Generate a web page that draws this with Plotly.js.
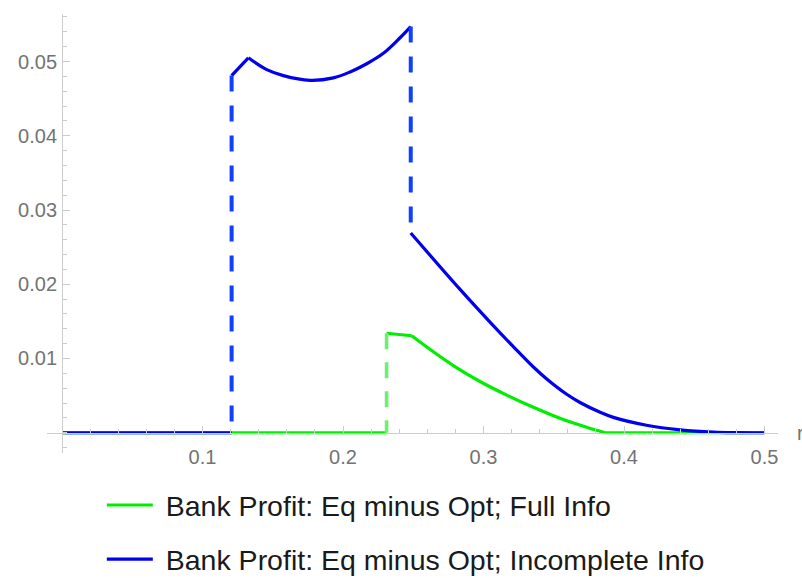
<!DOCTYPE html>
<html>
<head>
<meta charset="utf-8">
<script src="https://cdn.plot.ly/plotly-3.0.1.min.js"></script>
<style>
  html, body { margin: 0; padding: 0; background: #ffffff; }
  #chart { width: 802px; height: 578px; }
</style>
</head>
<body>
<div id="chart"></div>
<script>
// ---- Data ----
// Full info (green): solid pieces, separated by null
const fullR = [0, 0.231, null, 0.231, 0.2489, null,
               0.2489, 0.2643, 0.2785, 0.2975, 0.3165, 0.3355, 0.3544, 0.3734, 0.3865, null,
               0.3865, 0.5];
const fullP = [0, 0, null, 0.0134, 0.01306, null,
               0.01306, 0.0109, 0.00905, 0.0069, 0.00507, 0.00342, 0.00194, 0.00073, 0, null,
               0, 0];
// Full info jump (dashed)
const fullJumpR = [0.231, 0.231];
const fullJumpP = [0.0134, 0];

// Incomplete info (blue): solid pieces
const incR = [0, 0.1207, null, 0.1207, 0.1326, null,
              0.1326, 0.1457, 0.1575, 0.1765, 0.1931, 0.205, 0.2169, 0.2287, 0.2406, 0.2482, null,
              0.2482, 0.2833, 0.3046, 0.3212, 0.3355, 0.345, 0.3592, 0.3687, 0.383, 0.3924, 0.416, 0.44, 0.4636, 0.48, 0.5];
const incP = [0, 0, null, 0.0481, 0.0505, null,
              0.0505, 0.0489, 0.0481, 0.04747, 0.0478, 0.0486, 0.0497, 0.0511, 0.0532, 0.0547, null,
              0.0269, 0.0193, 0.0149, 0.0116, 0.00885, 0.00724, 0.00518, 0.00407, 0.00275, 0.00207, 0.00101, 0.00039, 0.00008, 0.00001, 0];
// Incomplete info jumps (dashed)
const incJumpR = [0.1207, 0.1207, null, 0.2482, 0.2482];
const incJumpP = [0.0481, 0, null, 0.0547, 0.0269];

const xTickVals = [0.1, 0.2, 0.3, 0.4, 0.5];
const xTickText = ["0.1", "0.2", "0.3", "0.4", "0.5"];
const yTickVals = [0.01, 0.02, 0.03, 0.04, 0.05];
const yTickText = ["0.01", "0.02", "0.03", "0.04", "0.05"];

const seriesNames = ["Bank Profit: Eq minus Opt; Full Info", "Bank Profit: Eq minus Opt; Incomplete Info"];
const xLabel = "r";

// ---- Styling ----
const green = "#00ee00";
const greenLight = "#70ee70";
const blue = "#0000ee";
const blueDash = "#1040ff";
const tickFont = { family: "Liberation Sans, Arial, sans-serif", size: 20, color: "#737373" };
const axisGray = "#cccccc";
const nb = "\u00A0";

const xRange = [-0.0107, 0.5096];
const yRange = [-0.00273, 0.0564];

const traces = [
  { x: fullR, y: fullP, type: "scatter", mode: "lines", name: nb + seriesNames[0], legendgroup: "a",
    line: { color: green, width: 3.2, shape: "spline", smoothing: 1 }, connectgaps: false },
  { x: fullJumpR, y: fullJumpP, type: "scatter", mode: "lines", showlegend: false, legendgroup: "a",
    line: { color: greenLight, width: 3.6, dash: "16px,13px" } },
  { x: incR, y: incP, type: "scatter", mode: "lines", name: nb + seriesNames[1], legendgroup: "b",
    line: { color: blue, width: 3.2, shape: "spline", smoothing: 1 }, connectgaps: false },
  { x: incJumpR, y: incJumpP, type: "scatter", mode: "lines", showlegend: false, legendgroup: "b",
    line: { color: blueDash, width: 4, dash: "16px,14px" } }
];

const layout = {
  width: 802, height: 578,
  margin: { l: 47, r: 24, t: 14, b: 125, autoexpand: false },
  paper_bgcolor: "#ffffff", plot_bgcolor: "#ffffff",
  showlegend: true,
  xaxis: {
    range: xRange, anchor: "free",
    position: (0 - yRange[0]) / (yRange[1] - yRange[0]),
    showline: true, linecolor: axisGray, linewidth: 1.2,
    ticks: "inside", ticklen: 7, tickcolor: axisGray, tickwidth: 1,
    tickmode: "array", tickvals: xTickVals, ticktext: xTickText,
    tickfont: tickFont, ticklabelstandoff: 6,
    showgrid: false, zeroline: false, automargin: false,
    minor: { tickmode: "linear", tick0: 0, dtick: 0.02, ticks: "inside", ticklen: 4, tickcolor: axisGray, showgrid: false }
  },
  yaxis: {
    range: yRange, anchor: "free",
    position: (0 - xRange[0]) / (xRange[1] - xRange[0]),
    showline: true, linecolor: axisGray, linewidth: 1.2,
    ticks: "inside", ticklen: 7, tickcolor: axisGray, tickwidth: 1,
    tickmode: "array", tickvals: yTickVals, ticktext: yTickText,
    tickfont: tickFont, ticklabelstandoff: 1,
    showgrid: false, zeroline: false, automargin: false,
    minor: { tickmode: "linear", tick0: 0, dtick: 0.002, ticks: "inside", ticklen: 4, tickcolor: axisGray, showgrid: false }
  },
  legend: {
    orientation: "v",
    x: 0.075, xanchor: "left",
    y: -0.0615, yanchor: "top",
    font: { family: "Liberation Sans, Arial, sans-serif", size: 28.5, color: "#1a1a1a" },
    tracegroupgap: 14,
    itemwidth: 46,
    bgcolor: "rgba(0,0,0,0)"
  },
  annotations: [
    { text: xLabel, xref: "paper", yref: "y", x: 1.023, y: 0, xanchor: "left", yanchor: "middle",
      showarrow: false, font: tickFont }
  ]
};

Plotly.newPlot("chart", traces, layout, { staticPlot: true, displayModeBar: false });
</script>
</body>
</html>
